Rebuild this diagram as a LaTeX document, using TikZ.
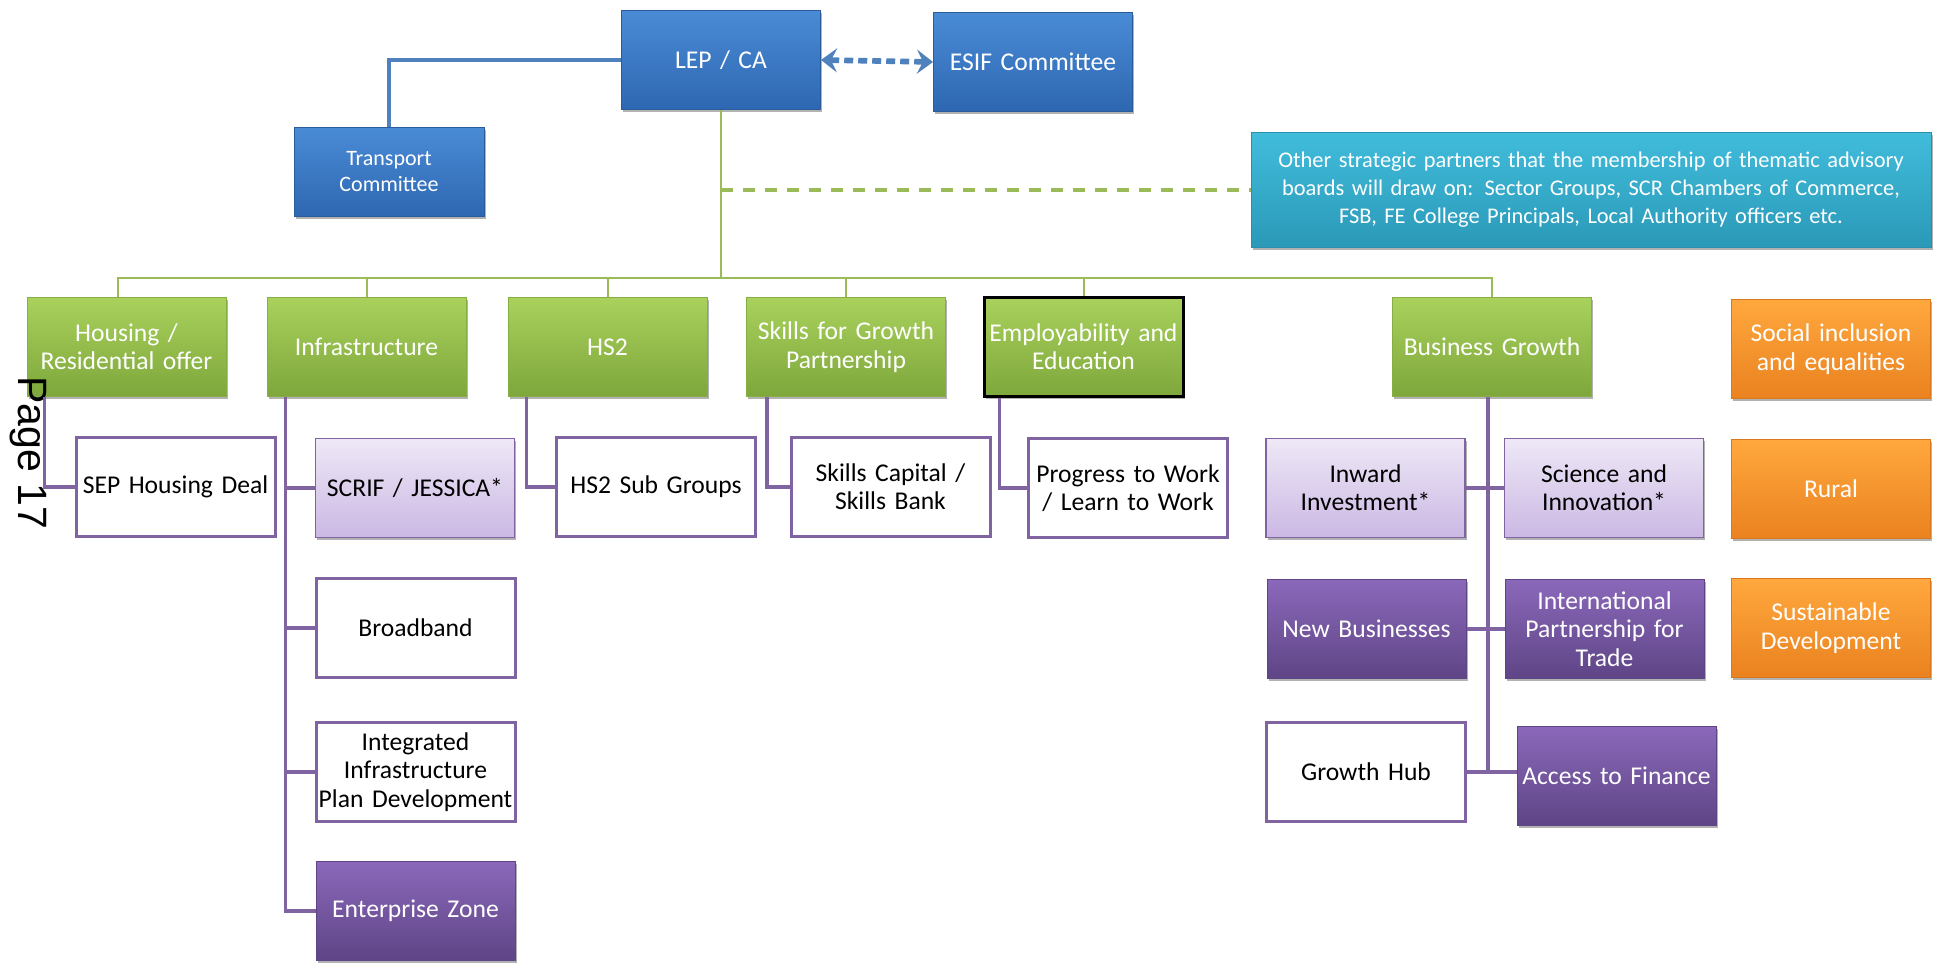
\documentclass[tikz,border=0pt]{standalone}
\usepackage{fontspec}
\setmainfont{Carlito}
\newfontfamily\pagefont{Liberation Sans}
\usetikzlibrary{shadows,arrows.meta,calc}
\definecolor{bluetop}{HTML}{4A8BD6}
\definecolor{bluebot}{HTML}{2E67B1}
\definecolor{blueedge}{HTML}{2B5C9A}
\definecolor{grtop}{HTML}{A9D15C}
\definecolor{grbot}{HTML}{7EA73C}
\definecolor{gredge}{HTML}{86AE45}
\definecolor{cytop}{HTML}{41BCDB}
\definecolor{cybot}{HTML}{2B99B8}
\definecolor{cyedge}{HTML}{2A8FAE}
\definecolor{ortop}{HTML}{FFA83E}
\definecolor{orbot}{HTML}{EA821F}
\definecolor{oredge}{HTML}{D9781C}
\definecolor{lvtop}{HTML}{EEE8F6}
\definecolor{lvbot}{HTML}{CBB8E4}
\definecolor{pu}{HTML}{8064A2}
\definecolor{dptop}{HTML}{8B68BA}
\definecolor{dpbot}{HTML}{5E4586}
\definecolor{glinec}{HTML}{9BBB59}
\definecolor{blinec}{HTML}{4F81BD}
\tikzset{
  sh/.style={drop shadow={shadow xshift=0.8pt, shadow yshift=-1.3pt, fill=black, opacity=0.3}},
  box/.style={rectangle, minimum width=99.5pt, minimum height=49.5pt, align=center,
    inner sep=1pt, text width=97pt, font=\fontsize{12.8}{14.2}\selectfont},
  bluebox/.style={box, sh, top color=bluetop, bottom color=bluebot, draw=blueedge, line width=0.5pt, text=white},
  greenbox/.style={box, sh, top color=grtop, bottom color=grbot, draw=gredge, line width=0.5pt, text=white},
  orangebox/.style={box, sh, top color=ortop, bottom color=orbot, draw=oredge, line width=0.5pt, text=white},
  lavbox/.style={box, sh, top color=lvtop, bottom color=lvbot, draw=pu, line width=0.8pt, text=black},
  dpbox/.style={box, sh, top color=dptop, bottom color=dpbot, draw=dpbot, line width=0.5pt, text=white},
  whitebox/.style={box, fill=white, draw=pu, line width=1.5pt, text=black},
  gconn/.style={draw=glinec, line width=1pt},
  pconn/.style={draw=pu, line width=1.6pt},
  bconn/.style={draw=blinec, line width=1.6pt},
  gdash/.style={draw=glinec, line width=2.2pt, dash pattern=on 6pt off 5pt},
  bdash/.style={draw=blinec, line width=2.8pt, dash pattern=on 4.5pt off 2.5pt,
    {Stealth[length=8pt,width=12pt,inset=3pt]}-{Stealth[length=8pt,width=12pt,inset=3pt]}}
}
\begin{document}
\begin{tikzpicture}[x=0.5pt,y=-0.5pt]
\useasboundingbox[fill=white] (0,0) rectangle (1942,967);

% top level
\node[bluebox] (lep) at (721,60) {LEP / CA};
\node[bluebox] (esif) at (1033,62) {ESIF Committee};
\node[bluebox, minimum width=95pt, minimum height=44.5pt, text width=93pt,
  font=\fontsize{11}{13}\selectfont] (trans) at (389,172) {Transport\\Committee};
\node[box, sh, top color=cytop, bottom color=cybot, draw=cyedge, line width=0.5pt, text=white,
  minimum width=340pt, minimum height=57.5pt, text width=336pt,
  font=\fontsize{11.2}{14}\selectfont] (cyan) at (1591,190)
  {Other strategic partners that the membership of thematic advisory\\boards will draw on: Sector Groups, SCR Chambers of Commerce,\\FSB, FE College Principals, Local Authority officers etc.};

% green row
\node[greenbox] (hous) at (126.5,347) {Housing /\\Residential offer};
\node[greenbox] (infra) at (366.5,347) {Infrastructure};
\node[greenbox] (hs2) at (607.5,347) {HS2};
\node[greenbox] (sfg) at (846,347) {Skills for Growth\\Partnership};
\node[greenbox, draw=black, line width=1.5pt] (emp) at (1083.5,347) {Employability and\\Education};
\node[greenbox] (bg) at (1492,347) {Business Growth};

% orange column
\node[orangebox] (soc) at (1831,349) {Social inclusion\\and equalities};
\node[orangebox] (rural) at (1831,489) {Rural};
\node[orangebox] (sust) at (1831,628) {Sustainable\\Development};

% second row
\node[whitebox] (sep) at (175.5,487) {SEP Housing Deal};
\node[lavbox] (scrif) at (415,488) {SCRIF / JESSICA*};
\node[whitebox] (hs2sub) at (656,487) {HS2 Sub Groups};
\node[whitebox] (scap) at (890.5,487) {Skills Capital /\\Skills Bank};
\node[whitebox] (ptw) at (1128,488) {Progress to Work\\/ Learn to Work};
\node[lavbox] (inward) at (1365.5,488) {Inward\\Investment*};
\node[lavbox] (sci) at (1604,488) {Science and\\Innovation*};

% infrastructure column
\node[whitebox] (bband) at (415.5,628) {Broadband};
\node[whitebox] (iipd) at (415.5,772) {Integrated\\Infrastructure\\Plan Development};
\node[dpbox] (ez) at (415.5,911) {Enterprise Zone};

% business column
\node[dpbox] (newb) at (1366.5,629) {New Businesses};
\node[dpbox] (ipt) at (1604.5,629) {International\\Partnership for\\Trade};
\node[whitebox] (gh) at (1366,772) {Growth Hub};
\node[dpbox] (a2f) at (1616.5,776) {Access to Finance};

% page stamp
\node[rotate=-90, font=\pagefont\fontsize{20.5}{24}\selectfont, inner sep=0pt] (page) at (28,453) {Page 17};

% blue connectors
\draw[bconn] (lep.west) -| (trans.north);
\draw[bdash] (lep.east) -- (esif.west);

% green connectors
\coordinate (bus) at ($(lep.south)+(0,168)$);
\draw[gconn] (lep.south) -- (bus);
\draw[gconn] (bus) -| ([xshift=-4.25pt]hous.north);
\draw[gconn] (bus) -| (infra.north);
\draw[gconn] (bus) -| (hs2.north);
\draw[gconn] (bus) -| (sfg.north);
\draw[gconn] (bus) -| (emp.north);
\draw[gconn] (bus) -| (bg.north);
\draw[gdash] (lep.south |- cyan.west) -- (cyan.west);

% purple connectors
\draw[pconn] ([xshift=9pt]hous.south west) |- (sep.west);
\coordinate (iv) at ([xshift=9.5pt]infra.south west);
\draw[pconn] (iv) |- (ez.west);
\draw[pconn] (iv |- scrif.west) -- (scrif.west);
\draw[pconn] (iv |- bband.west) -- (bband.west);
\draw[pconn] (iv |- iipd.west) -- (iipd.west);
\draw[pconn] ([xshift=9.5pt]hs2.south west) |- (hs2sub.west);
\draw[pconn] ([xshift=10.5pt]sfg.south west) |- (scap.west);
\draw[pconn] ([xshift=8.5pt]emp.south west) |- (ptw.west);
\coordinate (bv) at ([xshift=-2pt]bg.south);
\draw[pconn] (bv) -- (bv |- gh.east);
\draw[pconn] (inward.east) -- (sci.west);
\draw[pconn] (newb.east) -- (ipt.west);
\draw[pconn] (gh.east) -- (a2f.west |- gh.east);
\end{tikzpicture}
\end{document}
